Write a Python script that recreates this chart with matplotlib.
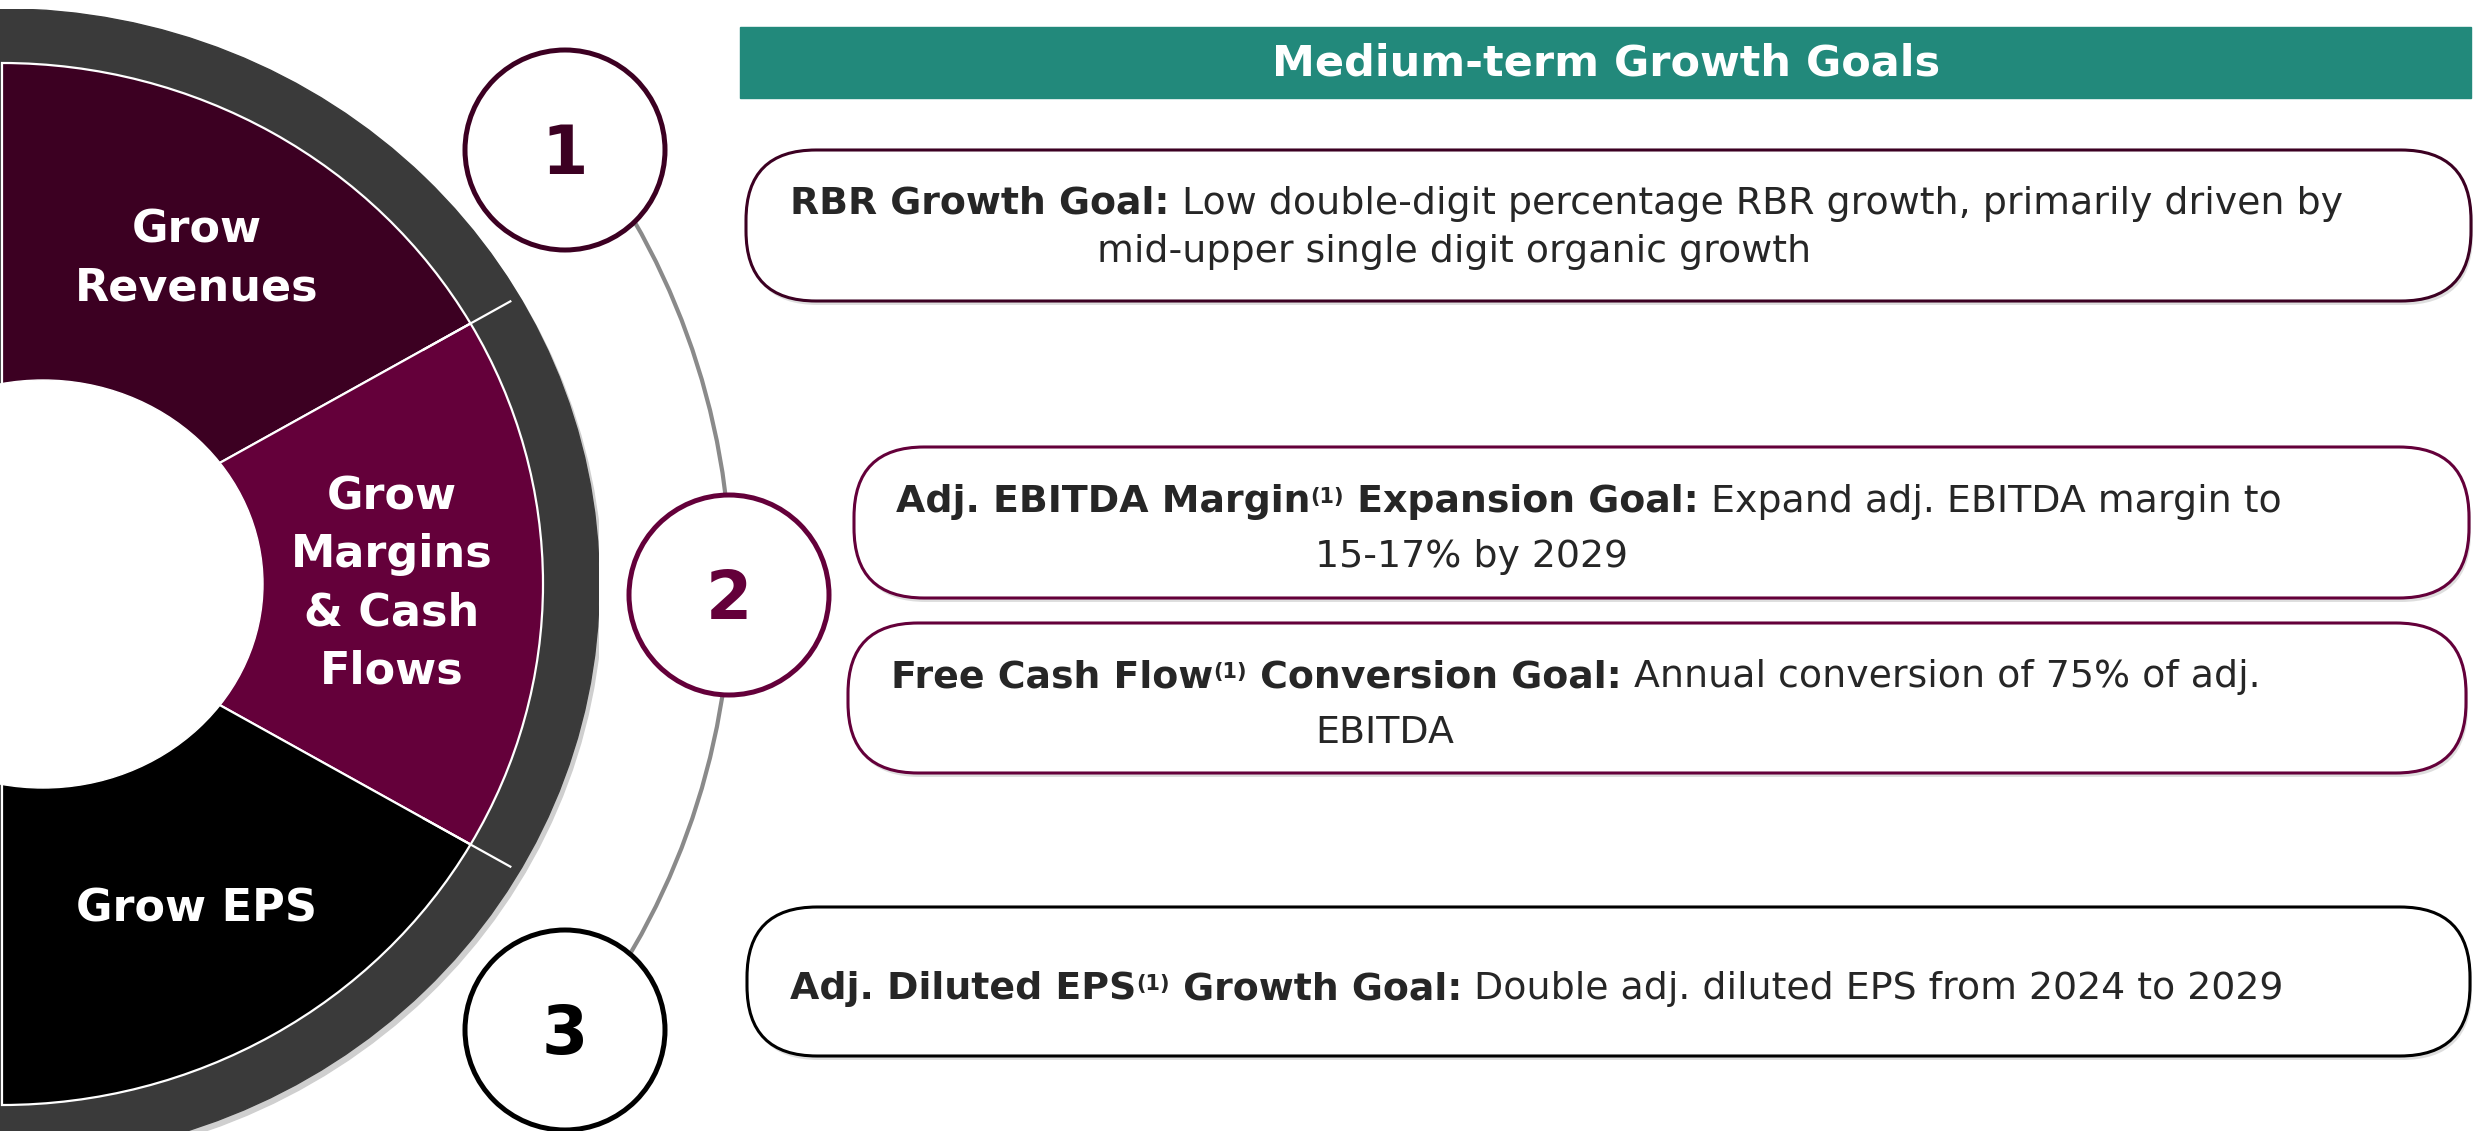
import numpy as np
import matplotlib.pyplot as plt
from matplotlib.patches import Circle, Ellipse, Arc, FancyBboxPatch, Rectangle

W, H = 2483, 1131

# ring segments, top to bottom (degrees of the visible half ring)
segment_labels = ["Grow\nRevenues", "Grow\nMargins\n& Cash\nFlows", "Grow EPS"]
segment_spans = [60, 60, 60]
segment_colors = ["#3c0022", "#64003a", "#000000"]

goal_numbers = ["1", "2", "3"]
goal_colors = ["#3c0022", "#64003a", "#000000"]

header_title = "Medium-term Growth Goals"

# each box: list of lines, each line a list of (text, style) pieces
goal_boxes = [
    [[("RBR Growth Goal:", "b"), (" Low double-digit percentage RBR growth, primarily driven by", "r")],
     [("mid-upper single digit organic growth", "r")]],
    [[("Adj. EBITDA Margin", "b"), ("(1)", "sup"), (" Expansion Goal:", "b"),
      (" Expand adj. EBITDA margin to", "r")],
     [("15-17% by 2029", "r")]],
    [[("Free Cash Flow", "b"), ("(1)", "sup"), (" Conversion Goal:", "b"),
      (" Annual conversion of 75% of adj.", "r")],
     [("EBITDA", "r")]],
    [[("Adj. Diluted EPS", "b"), ("(1)", "sup"), (" Growth Goal:", "b"),
      (" Double adj. diluted EPS from 2024 to 2029", "r")]],
]
box_edges = ["#3c0022", "#64003a", "#64003a", "#000000"]

# layout (pixels, y measured from the top)
ring_center = (2, 584)
ring_rx, ring_ry = 541, 521
shell_scale = 1.104
hole_center, hole_rx, hole_ry = (43, 584), 220, 204
box_rects = [(746, 150, 1725, 151), (854, 447, 1615, 151), (848, 623, 1618, 150), (747, 907, 1723, 149)]
line_starts = [[(790, 214), (1097, 262)], [(896, 512), (1315, 567)],
               [(891, 687), (1315, 743)], [(790, 999)]]
circle_centers = [(565, 150), (729, 595), (565, 1030)]
circle_r = 100
arc_r = 729

TEXT = "#262626"
BODY = 27.3
SUP = 15

fig = plt.figure(figsize=(W / 100, H / 100), dpi=100)

# donut axes, stretched slightly so the ring is an ellipse like the slide
sx, sy = ring_rx * shell_scale, ring_ry * shell_scale
dax = fig.add_axes([(ring_center[0] - sx) / W, (H - ring_center[1] - sy) / H, 2 * sx / W, 2 * sy / H])
dax.add_patch(Circle((0.006, -0.010), shell_scale, color="#cfcfcf", zorder=0))
dax.add_patch(Circle((0, 0), shell_scale, color="#3a3a3a", zorder=1))
wedges, texts = dax.pie(np.array(segment_spans) / 360, normalize=False, startangle=90,
                        counterclock=False, colors=segment_colors, radius=1.0,
                        labels=segment_labels, labeldistance=0.72,
                        wedgeprops=dict(edgecolor="white", linewidth=1.6, zorder=2),
                        textprops=dict(color="white", fontsize=32, fontweight="bold",
                                       ha="center", va="center", linespacing=1.45))
for t in texts:
    t.set_zorder(5)
# separators continue through the grey shell
bounds = 90 - np.cumsum(segment_spans)[:-1]
for a in np.radians(bounds):
    dax.plot([0.9 * np.cos(a), 1.085 * np.cos(a)], [0.9 * np.sin(a), 1.085 * np.sin(a)],
             color="white", lw=1.6, zorder=3)
dax.set_aspect("auto")
dax.set_xlim(-shell_scale, shell_scale)
dax.set_ylim(-shell_scale, shell_scale)
dax.axis("off")

ax = fig.add_axes([0, 0, 1, 1])
ax.set_xlim(0, W)
ax.set_ylim(H, 0)
ax.axis("off")
ax.patch.set_alpha(0)

ax.add_patch(Ellipse(hole_center, 2 * hole_rx, 2 * hole_ry, color="white", zorder=1))

# connector arc and numbered circles
ax.add_patch(Arc(ring_center, 2 * arc_r, 2 * arc_r, theta1=-40, theta2=40,
                 color="#8a8a8a", lw=3, zorder=1))
for (cx, cy), num, col in zip(circle_centers, goal_numbers, goal_colors):
    ax.add_patch(Circle((cx, cy), circle_r, facecolor="white", edgecolor=col, lw=3.6, zorder=2))
    ax.text(cx, cy + 5, num, color=col, fontsize=48, fontweight="bold",
            ha="center", va="center", zorder=3)

# header bar
ax.add_patch(Rectangle((740, 27), 1731, 71, color="#22897b", zorder=1))
ax.text(1606, 64, header_title, color="white", fontsize=31, fontweight="bold",
        ha="center", va="center", zorder=2)


def rich_line(x, y, parts):
    first, style = parts[0]
    t = ax.text(x, y, first, fontsize=BODY, color=TEXT, va="baseline", ha="left",
                fontweight="bold" if style == "b" else "normal", zorder=4)
    main, prev = t, t
    for s, style in parts[1:]:
        if style == "sup":
            a = ax.annotate(s, xy=(1, 0.93), xycoords=prev, va="top", ha="left",
                            fontsize=SUP, fontweight="bold", color=TEXT, zorder=4)
        else:
            a = ax.annotate(s, xy=(1, 0), xycoords=(prev, main), va="bottom", ha="left",
                            fontsize=BODY, color=TEXT, zorder=4,
                            fontweight="bold" if style == "b" else "normal")
            main = a
        prev = a


for (bx, by, bw, bh), edge, lines, starts in zip(box_rects, box_edges, goal_boxes, line_starts):
    ax.add_patch(FancyBboxPatch((bx + 2, by + 4), bw, bh, boxstyle="round,pad=0,rounding_size=70",
                                facecolor="#dedede", edgecolor="none", zorder=1))
    ax.add_patch(FancyBboxPatch((bx, by), bw, bh, boxstyle="round,pad=0,rounding_size=70",
                                facecolor="white", edgecolor=edge, lw=2.2, zorder=2))
    for parts, (lx, ly) in zip(lines, starts):
        rich_line(lx, ly, parts)

fig.savefig("out.png", dpi=100)
